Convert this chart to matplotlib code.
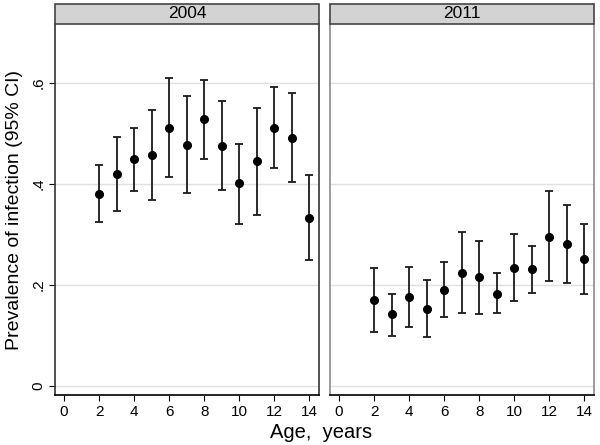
import matplotlib
matplotlib.use("Agg")
import matplotlib.pyplot as plt
from matplotlib.patches import Rectangle

plt.rcParams['font.family'] = ['Liberation Sans', 'DejaVu Sans']

ages = [2, 3, 4, 5, 6, 7, 8, 9, 10, 11, 12, 13, 14]
panels = ["2004", "2011"]

prev_2004 = [0.381, 0.420, 0.449, 0.458, 0.511, 0.478, 0.528, 0.476, 0.401, 0.445, 0.511, 0.492, 0.333]
lo_2004 = [0.324, 0.347, 0.386, 0.369, 0.413, 0.383, 0.450, 0.388, 0.321, 0.338, 0.432, 0.403, 0.250]
hi_2004 = [0.438, 0.494, 0.510, 0.547, 0.610, 0.574, 0.606, 0.565, 0.480, 0.550, 0.593, 0.581, 0.417]

prev_2011 = [0.170, 0.142, 0.176, 0.153, 0.191, 0.224, 0.216, 0.183, 0.234, 0.232, 0.296, 0.282, 0.251]
lo_2011 = [0.106, 0.100, 0.116, 0.098, 0.136, 0.145, 0.143, 0.144, 0.168, 0.185, 0.207, 0.203, 0.182]
hi_2011 = [0.234, 0.183, 0.235, 0.209, 0.245, 0.304, 0.288, 0.223, 0.300, 0.278, 0.386, 0.359, 0.320]

x_ticks = [0, 2, 4, 6, 8, 10, 12, 14]
y_ticks = [0, 0.2, 0.4, 0.6]
y_ticklabels = ["0", ".2", ".4", ".6"]

data = [(prev_2004, lo_2004, hi_2004), (prev_2011, lo_2011, hi_2011)]

fig = plt.figure(figsize=(6, 4.45), dpi=100)
W, H = 600, 445
ax_bottom = 1 - 395 / H
ax_top = 1 - 24 / H
strip_top = 1 - 4 / H
lefts = [55 / W, 330 / W]
width = 264 / W

for i, (name, (p, lo, hi)) in enumerate(zip(panels, data)):
    ax = fig.add_axes([lefts[i], ax_bottom, width, ax_top - ax_bottom])
    ax.set_xlim(-0.52, 14.55)
    ax.set_ylim(-0.0178, 0.7168)
    for yt in y_ticks:
        ax.axhline(yt, color='#e0e0e0', lw=1.0, zorder=0)
    yerr = [[pv - l for pv, l in zip(p, lo)], [h - pv for pv, h in zip(p, hi)]]
    ax.errorbar(ages, p, yerr=yerr, fmt='o', color='black', ecolor='#1a1a1a',
                markersize=5.5, elinewidth=1.3, capsize=2.6, capthick=1.3, zorder=3)
    ax.set_xticks(x_ticks)
    ax.set_xticklabels([str(t) for t in x_ticks], fontsize=11)
    ax.tick_params(axis='x', direction='out', length=4, width=0.8, pad=3)
    if i == 0:
        ax.set_yticks(y_ticks)
        ax.set_yticklabels(y_ticklabels, fontsize=11, rotation=90, va='center')
        ax.tick_params(axis='y', direction='out', length=4, width=0.8, pad=3)
        ax.spines['left'].set_color('#333333')
        ax.spines['right'].set_color('#333333')
        ax.set_ylabel("Prevalence of infection (95% CI)", fontsize=14, labelpad=6)
    else:
        ax.set_yticks([])
        ax.spines['left'].set_color('#8c8c8c')
        ax.spines['right'].set_color('#8c8c8c')
    ax.spines['top'].set_visible(False)
    ax.spines['bottom'].set_color('black')
    for s in ax.spines.values():
        s.set_linewidth(1.2)
    # strip header
    strip = Rectangle((lefts[i], ax_top), width, strip_top - ax_top,
                      transform=fig.transFigure, facecolor='#d3d3d3',
                      edgecolor='#444444', lw=1.2)
    fig.patches.append(strip)
    fig.text(lefts[i] + width / 2, (ax_top + strip_top) / 2, name,
             ha='center', va='center', fontsize=12.5)

fig.text(0.535, 1 - 432 / H, "Age,  years", ha='center', va='center', fontsize=14.5)

fig.savefig("out.png", dpi=100)
